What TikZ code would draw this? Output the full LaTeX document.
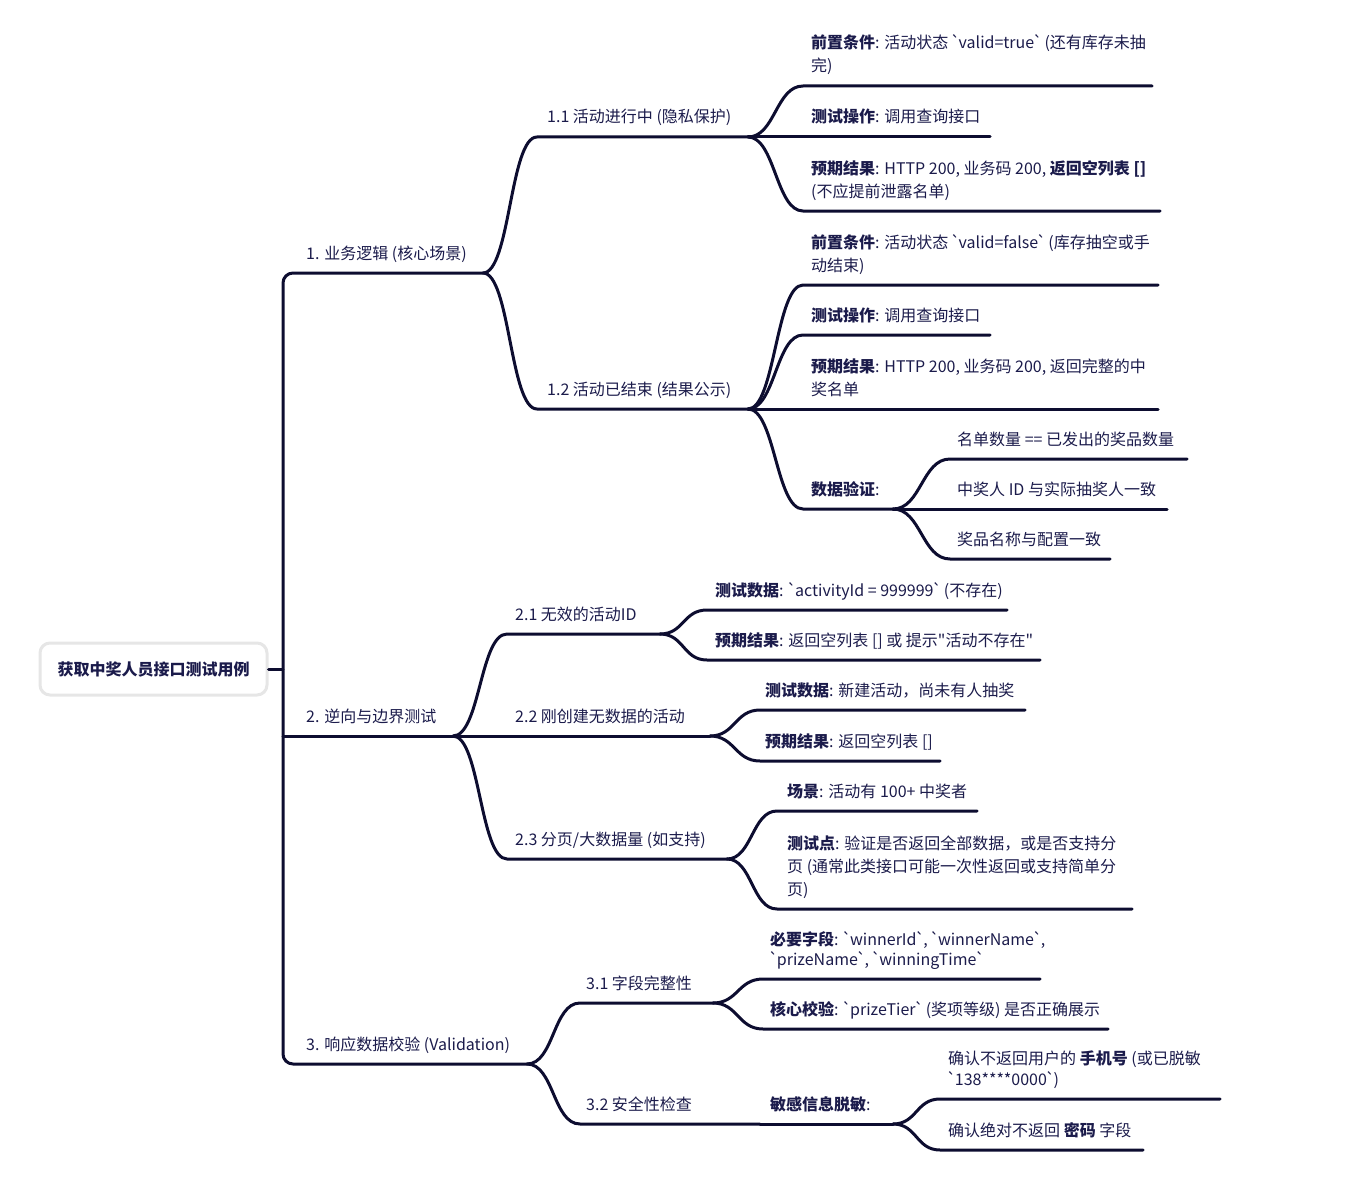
\documentclass[tikz,border=0pt]{standalone}
\usepackage{fontspec}
\newfontfamily\cjk{Noto Sans CJK SC}
\definecolor{ink}{HTML}{1B1B4B}
\definecolor{wirec}{HTML}{0D0D30}
\definecolor{boxline}{HTML}{E6E6E6}
\newcommand\mmbranch[4]{\draw[wire] (#1) .. controls +(#4,0) and +(-#4,0) .. (#2) -- (#3);}
\newcommand\bq{\kern-1.5pt`\kern-1.5pt}
\tikzset{
  lbl/.style={anchor=base west, inner sep=0pt, text=ink, font=\cjk\fontsize{16}{23}\selectfont, align=left},
  wire/.style={draw=wirec, line width=3pt, line cap=round},
  rootbox/.style={draw=boxline, line width=3pt, fill=white, rounded corners=10pt, minimum width=227pt, minimum height=52pt, text=ink, font=\cjk\fontsize{16}{20}\selectfont\bfseries}
}
\begin{document}
\begin{tikzpicture}[x=1pt,y=-1pt]
\useasboundingbox (0,0) rectangle (1352,1188);
% root
\node[rootbox] (root) at (153.5,669) {获取中奖人员接口测试用例};
\coordinate (trunk) at (283,669);
\draw[wire] (root.east) -- (trunk);
% level 1
\coordinate (a1s) at (283,273); \coordinate (a1e) at (483,273);
\coordinate (a2s) at (283,736); \coordinate (a2e) at (453,736);
\coordinate (a3s) at (283,1064); \coordinate (a3e) at (527,1064);
\draw[wire, rounded corners=10pt] (a1e) -- (a1s) -- (a3s) -- (a3e);
\draw[wire] (a2s) -- (a2e);
\node[lbl] (t1) at (306,259) {1. 业务逻辑 (核心场景)};
\node[lbl] (t2) at (306,722) {2. 逆向与边界测试};
\node[lbl] (t3) at (306,1050) {3. 响应数据校验 (Validation)};
% 1.x
\coordinate (b11s) at (537,137); \coordinate (b11e) at (748,137);
\coordinate (b12s) at (537,409); \coordinate (b12e) at (748,409);
\mmbranch{a1e}{b11s}{b11e}{27}
\mmbranch{a1e}{b12s}{b12e}{27}
\node[lbl] (t11) at (547,123) {1.1 活动进行中 (隐私保护)};
\node[lbl] (t12) at (547,395) {1.2 活动已结束 (结果公示)};
% 1.1 leaves
\coordinate (c111s) at (803,86);  \coordinate (c111e) at (1152,86);
\coordinate (c112s) at (803,137); \coordinate (c112e) at (990,137);
\coordinate (c113s) at (803,211); \coordinate (c113e) at (1160,211);
\mmbranch{b11e}{c111s}{c111e}{27}
\mmbranch{b11e}{c112s}{c112e}{27}
\mmbranch{b11e}{c113s}{c113e}{27}
\node[lbl] (t111) at (811,72) {\textbf{前置条件}: 活动状态 \bq valid=true\bq{} (还有库存未抽\\完)};
\node[lbl] (t112) at (811,123) {\textbf{测试操作}: 调用查询接口};
\node[lbl] (t113) at (811,197) {\textbf{预期结果}: HTTP 200, 业务码 200, \textbf{返回空列表 []}\\(不应提前泄露名单)};
% 1.2 leaves
\coordinate (c121s) at (803,285); \coordinate (c121e) at (1158,285);
\coordinate (c122s) at (803,335); \coordinate (c122e) at (990,335);
\coordinate (c123s) at (803,409); \coordinate (c123e) at (1158,409);
\coordinate (c124s) at (803,509); \coordinate (c124e) at (893,509);
\mmbranch{b12e}{c121s}{c121e}{27}
\mmbranch{b12e}{c122s}{c122e}{27}
\mmbranch{b12e}{c123s}{c123e}{27}
\mmbranch{b12e}{c124s}{c124e}{27}
\node[lbl] (t121) at (811,271) {\textbf{前置条件}: 活动状态 \bq valid=false\bq{} (库存抽空或手\\动结束)};
\node[lbl] (t122) at (811,321) {\textbf{测试操作}: 调用查询接口};
\node[lbl] (t123) at (811,395) {\textbf{预期结果}: HTTP 200, 业务码 200, 返回完整的中\\奖名单};
\node[lbl] (t124) at (811,495) {\textbf{数据验证}:};
% data check leaves
\coordinate (d1s) at (950,459); \coordinate (d1e) at (1187,459);
\coordinate (d2s) at (950,509); \coordinate (d2e) at (1167,509);
\coordinate (d3s) at (950,559); \coordinate (d3e) at (1110,559);
\mmbranch{c124e}{d1s}{d1e}{28}
\mmbranch{c124e}{d2s}{d2e}{28}
\mmbranch{c124e}{d3s}{d3e}{28}
\node[lbl] (td1) at (957,445) {名单数量 == 已发出的奖品数量};
\node[lbl] (td2) at (957,495) {中奖人 ID 与实际抽奖人一致};
\node[lbl] (td3) at (957,545) {奖品名称与配置一致};
% 2.x
\coordinate (b21s) at (507,634); \coordinate (b21e) at (660,634);
\coordinate (b22s) at (507,736); \coordinate (b22e) at (710,736);
\coordinate (b23s) at (507,859); \coordinate (b23e) at (727,859);
\mmbranch{a2e}{b21s}{b21e}{27}
\mmbranch{a2e}{b22s}{b22e}{27}
\mmbranch{a2e}{b23s}{b23e}{27}
\node[lbl] (t21) at (515,620) {2.1 无效的活动ID};
\node[lbl] (t22) at (515,722) {2.2 刚创建无数据的活动};
\node[lbl] (t23) at (515,845) {2.3 分页/大数据量 (如支持)};
% 2.1 leaves
\coordinate (c211s) at (707,610); \coordinate (c211e) at (1007,610);
\coordinate (c212s) at (707,660); \coordinate (c212e) at (1040,660);
\mmbranch{b21e}{c211s}{c211e}{24}
\mmbranch{b21e}{c212s}{c212e}{24}
\node[lbl] (t211) at (715,596) {\textbf{测试数据}: \bq activityId = 999999\bq{} (不存在)};
\node[lbl] (t212) at (715,646) {\textbf{预期结果}: 返回空列表 [] 或 提示"活动不存在"};
% 2.2 leaves
\coordinate (c221s) at (760,710); \coordinate (c221e) at (1025,710);
\coordinate (c222s) at (760,761); \coordinate (c222e) at (940,761);
\mmbranch{b22e}{c221s}{c221e}{25}
\mmbranch{b22e}{c222s}{c222e}{25}
\node[lbl] (t221) at (765,696) {\textbf{测试数据}: 新建活动，尚未有人抽奖};
\node[lbl] (t222) at (765,747) {\textbf{预期结果}: 返回空列表 []};
% 2.3 leaves
\coordinate (c231s) at (777,811); \coordinate (c231e) at (977,811);
\coordinate (c232s) at (777,909); \coordinate (c232e) at (1132,909);
\mmbranch{b23e}{c231s}{c231e}{25}
\mmbranch{b23e}{c232s}{c232e}{25}
\node[lbl] (t231) at (787,797) {\textbf{场景}: 活动有 100+ 中奖者};
\node[lbl] (t232) at (787,895) {\textbf{测试点}: 验证是否返回全部数据，或是否支持分\\页 (通常此类接口可能一次性返回或支持简单分\\页)};
% 3.x
\coordinate (b31s) at (580,1003); \coordinate (b31e) at (713,1003);
\coordinate (b32s) at (580,1124); \coordinate (b32e) at (760,1124);
\mmbranch{a3e}{b31s}{b31e}{27}
\mmbranch{a3e}{b32s}{b32e}{27}
\node[lbl] (t31) at (586,989) {3.1 字段完整性};
\node[lbl] (t32) at (586,1110) {3.2 安全性检查};
% 3.1 leaves
\coordinate (c311s) at (763,979); \coordinate (c311e) at (1040,979);
\coordinate (c312s) at (763,1029); \coordinate (c312e) at (1108,1029);
\mmbranch{b31e}{c311s}{c311e}{25}
\mmbranch{b31e}{c312s}{c312e}{25}
\node[lbl] (t311) at (770,965) {\textbf{必要字段}: \bq winnerId\bq, \bq winnerName\bq,\\[-3pt]\bq prizeName\bq, \bq winningTime\bq};
\node[lbl] (t312) at (770,1015) {\textbf{核心校验}: \bq prizeTier\bq{} (奖项等级) 是否正确展示};
% 3.2 leaf
\coordinate (c321e) at (893,1124);
\draw[wire] (b32e) -- (c321e);
\node[lbl] (t321) at (770,1110) {\textbf{敏感信息脱敏}:};
% sensitive leaves
\coordinate (d4s) at (940,1099); \coordinate (d4e) at (1220,1099);
\coordinate (d5s) at (940,1150); \coordinate (d5e) at (1143,1150);
\mmbranch{c321e}{d4s}{d4e}{24}
\mmbranch{c321e}{d5s}{d5e}{24}
\node[lbl] (td4) at (948,1085) {确认不返回用户的 \textbf{手机号} (或已脱敏\\[-2pt]\bq 138****0000\bq)};
\node[lbl] (td5) at (948,1136) {确认绝对不返回 \textbf{密码} 字段};
\end{tikzpicture}
\end{document}
